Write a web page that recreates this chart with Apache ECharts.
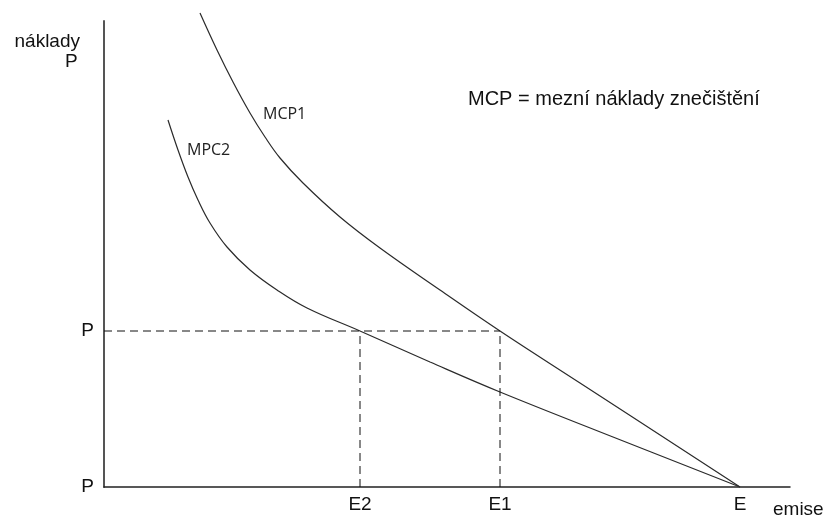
<!DOCTYPE html>
<html>
<head>
<meta charset="utf-8">
<script src="https://cdn.jsdelivr.net/npm/echarts@6/dist/echarts.min.js"></script>
<style>html,body{margin:0;padding:0;background:#fff}#c{width:830px;height:519px}</style>
</head>
<body>
<div id="c"></div>
<script>
// Data (chart units: x = emissions, y = costs)
const mcp1X = [96, 113, 129, 146, 161, 176, 199, 236, 276, 336, 396, 476, 636];
const mcp1Y = [474, 437, 405, 374, 350, 329, 304, 270, 239, 197, 156, 104, 0];
const mpc2X = [64, 74, 84, 94, 106, 123, 146, 173, 203, 256, 326, 396, 509, 636];
const mpc2Y = [367, 337, 310, 287, 264, 240, 217, 197, 179, 156, 125, 95, 50, 0];
const eLabels = ['E2', 'E1', 'E'];
const ePositions = [256, 396, 636];
const pLabels = ['P', 'P'];
const pLevels = [0, 156];
const curveNames = ['MCP1', 'MPC2'];

const zip = (xs, ys) => xs.map((x, i) => [x, ys[i]]);
const pLevel = pLevels[1];
const dashStyle = { color: '#111', width: 1, type: [8, 5] };

const chart = echarts.init(document.getElementById('c'));
chart.setOption({
  animation: false,
  backgroundColor: '#fff',
  grid: { left: 104, right: 40, top: 21, bottom: 32 },
  xAxis: {
    type: 'value', min: 0, max: 686,
    splitLine: { show: false },
    axisLine: { show: true, onZero: false, lineStyle: { color: '#222', width: 1.5 } },
    axisTick: { show: false },
    axisLabel: {
      customValues: ePositions,
      formatter: v => eLabels[ePositions.indexOf(v)],
      fontFamily: 'Liberation Sans', fontSize: 19, color: '#111', margin: 8
    }
  },
  yAxis: {
    type: 'value', min: 0, max: 466,
    splitLine: { show: false },
    axisLine: { show: true, onZero: false, lineStyle: { color: '#555', width: 2 } },
    axisTick: { show: false },
    axisLabel: {
      customValues: pLevels,
      formatter: v => pLabels[pLevels.indexOf(v)],
      fontFamily: 'Liberation Sans', fontSize: 19, color: '#111', margin: 10,
      verticalAlign: 'middle'
    }
  },
  graphic: [
    { type: 'text', right: 830 - 80, top: 32, style: { text: 'náklady', font: '19px "Liberation Sans"', fill: '#111', textAlign: 'right' } },
    { type: 'text', left: 65, top: 52, style: { text: 'P', font: '19px "Liberation Sans"', fill: '#111' } },
    { type: 'text', left: 773, top: 500, style: { text: 'emise', font: '19px "Liberation Sans"', fill: '#111' } },
    { type: 'text', left: 468, top: 89, style: { text: 'MCP = mezní náklady znečištění', font: '20px "Liberation Sans"', fill: '#111' } },
    { type: 'text', left: 263, top: 106, style: { text: curveNames[0], font: '16px "Open Sans"', fill: '#222' } },
    { type: 'text', left: 187, top: 142, style: { text: curveNames[1], font: '16px "Open Sans"', fill: '#222' } }
  ],
  series: [
    {
      name: curveNames[0], type: 'line', data: zip(mcp1X, mcp1Y), smooth: 0.4, clip: false,
      showSymbol: false, lineStyle: { color: '#2a2a2a', width: 1.2 }
    },
    {
      name: curveNames[1], type: 'line', data: zip(mpc2X, mpc2Y), smooth: 0.4, clip: false,
      showSymbol: false, lineStyle: { color: '#2a2a2a', width: 1.2 }
    },
    {
      name: 'pH', type: 'line', data: [[0, pLevel], [ePositions[1], pLevel]],
      showSymbol: false, lineStyle: dashStyle
    },
    {
      name: 'vE2', type: 'line', data: [[ePositions[0], 0], [ePositions[0], pLevel]],
      showSymbol: false, lineStyle: dashStyle
    },
    {
      name: 'vE1', type: 'line', data: [[ePositions[1], 0], [ePositions[1], pLevel]],
      showSymbol: false, lineStyle: dashStyle
    }
  ]
});
</script>
</body>
</html>
